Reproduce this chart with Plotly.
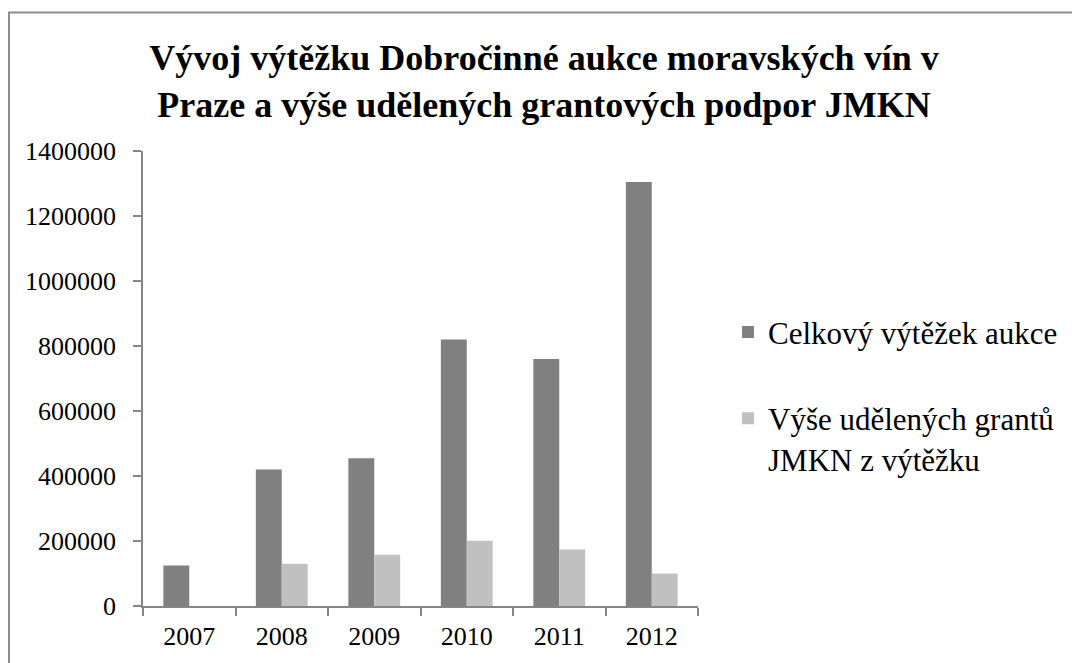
import plotly.graph_objects as go

years = ["2007", "2008", "2009", "2010", "2011", "2012"]
celkovy_vytezek = [125000, 420000, 455000, 820000, 760000, 1305000]
granty_jmkn = [None, 130000, 158000, 201000, 174000, 100000]

series_names = ["Celkový výtěžek aukce", "Výše udělených grantů<br>JMKN z výtěžku"]
title_text = ("<b>Vývoj výtěžku Dobročinné aukce moravských vín v<br>"
              "Praze a výše udělených grantových podpor JMKN</b>")

FONT = "Liberation Serif"
AXIS = "#868686"

fig = go.Figure()
fig.add_trace(go.Bar(x=years, y=celkovy_vytezek, name=series_names[0],
                     marker=dict(color="#808080", line=dict(width=0)),
                     legendgroup="a"))
fig.add_trace(go.Bar(x=years, y=granty_jmkn, name=series_names[1],
                     marker=dict(color="#c0c0c0", line=dict(width=0)),
                     legendgroup="b"))

# page has an 8px body margin; figure occupies page (8..1080, 8..663)
OFF = 8
W, H = 1080 - OFF, 663 - OFF
L, R, T, B = 143 - OFF, 382, 151 - OFF, 55
pw, ph = W - L - R, H - T - B

def px_x(p):  # page pixel -> paper x
    return (p - OFF - L) / pw

def px_y(p):  # page pixel -> paper y
    return (OFF + H - B - p) / ph

fig.update_layout(
    width=W, height=H,
    margin=dict(l=L, r=R, t=T, b=B),
    paper_bgcolor="white", plot_bgcolor="white",
    font=dict(family=FONT, color="black", size=26),
    title=dict(text=title_text, x=0.5, xanchor="center", xref="container",
               y=1 - 62 / H, yanchor="top", yref="container",
               font=dict(family=FONT, size=36, color="black")),
    barmode="group", bargap=0.44, bargroupgap=0,
    legend=dict(x=px_x(728), xanchor="left", y=px_y(306), yanchor="top",
                traceorder="grouped", tracegroupgap=43, valign="top",
                font=dict(family=FONT, size=31, color="black"),
                bgcolor="rgba(0,0,0,0)"),
    xaxis=dict(type="category", showline=True, linecolor=AXIS, linewidth=1.5,
               ticks="outside", tickson="boundaries", ticklen=8, tickcolor=AXIS,
               tickwidth=1.5, showgrid=False, ticklabelstandoff=6,
               tickfont=dict(family=FONT, size=26)),
    yaxis=dict(range=[0, 1400000], dtick=200000, tickformat="d",
               showline=True, linecolor=AXIS, linewidth=1.5, ticks="outside",
               ticklen=8, tickcolor=AXIS, tickwidth=1.5, showgrid=False,
               zeroline=False, ticklabelstandoff=12,
               tickfont=dict(family=FONT, size=26)),
    shapes=[dict(type="path", xref="paper", yref="paper",
                 path=f"M {px_x(9)} {px_y(700)} L {px_x(9)} {px_y(12)} L {px_x(1100)} {px_y(12)}",
                 line=dict(color="#8c8c8c", width=2))],
)

fig.write_html("out.html")
